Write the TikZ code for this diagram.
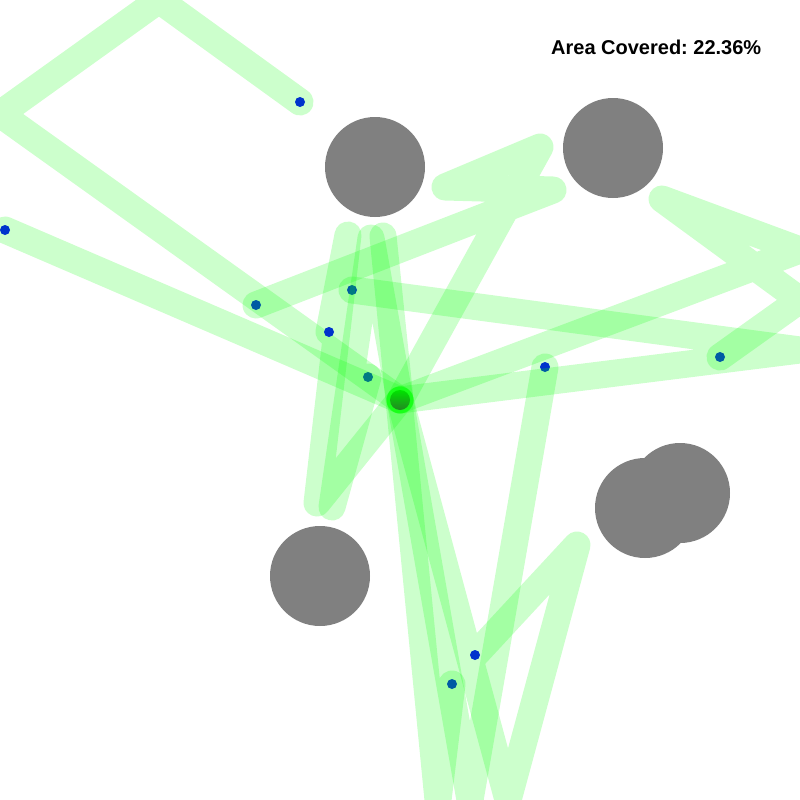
\documentclass[tikz,border=0pt]{standalone}
\usepackage{fontspec}
\setmainfont{Liberation Sans}
\frenchspacing
\definecolor{band}{RGB}{0,255,0}
\definecolor{obst}{RGB}{128,128,128}
\definecolor{dotblue}{RGB}{0,51,204}
\definecolor{hubtop}{RGB}{0,228,0}
\definecolor{hubbot}{RGB}{35,135,35}
\begin{document}
\begin{tikzpicture}[x=1pt,y=-1pt,
  trail/.style={draw=band, draw opacity=0.2, line width=27pt, line cap=round, line join=round},
  robot/.style={circle, fill=dotblue, minimum size=10pt, inner sep=0pt, draw=none},
  obstacle/.style={fill=obst}]
\useasboundingbox (0,0) rectangle (800,800);
\fill[white] (0,0) rectangle (800,800);
% obstacles
\fill[obstacle] (375,167) circle[radius=50];
\fill[obstacle] (613,148) circle[radius=50];
\fill[obstacle] (320,576) circle[radius=50];
\fill[obstacle] (645,508) circle[radius=50];
\fill[obstacle] (680,493) circle[radius=50];
% start and end points
\coordinate (start) at (400,400);
\coordinate (pA) at (300,102);
\coordinate (pB) at (5,230);
\coordinate (pC) at (256,305);
\coordinate (pD) at (720,357);
\coordinate (pE) at (352,290);
\coordinate (pF) at (329,332);
\coordinate (pG) at (368,377);
\coordinate (pP) at (475,655);
\coordinate (pQ) at (545,367);
\coordinate (pR) at (452,684);
% R
\draw[trail] (start) -- (383,236) -- (438,800) -- (pR);
\node[robot] (rR) at (pR) {};
% Q
\draw[trail] (start) -- (470,800) -- (pQ);
\node[robot] (rQ) at (pQ) {};
% P
\draw[trail] (start) -- (508,800) -- (577,545) -- (pP);
\node[robot] (rP) at (pP) {};
% D
\draw[trail] (start) -- (800,250) -- (662,199) -- (800,300) -- (pD);
\node[robot] (rD) at (pD) {};
% E
\draw[trail] (start) -- (800,350) -- (pE);
\node[robot] (rE) at (pE) {};
% C
\draw[trail] (start) -- (540,147) -- (445,187) -- (553,190) -- (pC);
\node[robot] (rC) at (pC) {};
% G
\draw[trail] (start) -- (371,238) -- (332,507) -- (pG);
\node[robot] (rG) at (pG) {};
% A
\draw[trail] (start) -- (0,114) -- (159,0) -- (pA);
\node[robot] (rA) at (pA) {};
% B
\draw[trail] (start) -- (pB);
\node[robot] (rB) at (pB) {};
% F
\draw[trail] (start) -- (317,503) -- (348,235) -- (pF);
\node[robot] (rF) at (pF) {};
% hub
\shade[top color=hubtop, bottom color=hubbot] (start) circle[radius=10];
% label
\node[anchor=base west, inner sep=0pt, font=\bfseries\fontsize{20}{24}\selectfont] (label) at (551,55) {Area Covered: 22.36\%};
\end{tikzpicture}
\end{document}
